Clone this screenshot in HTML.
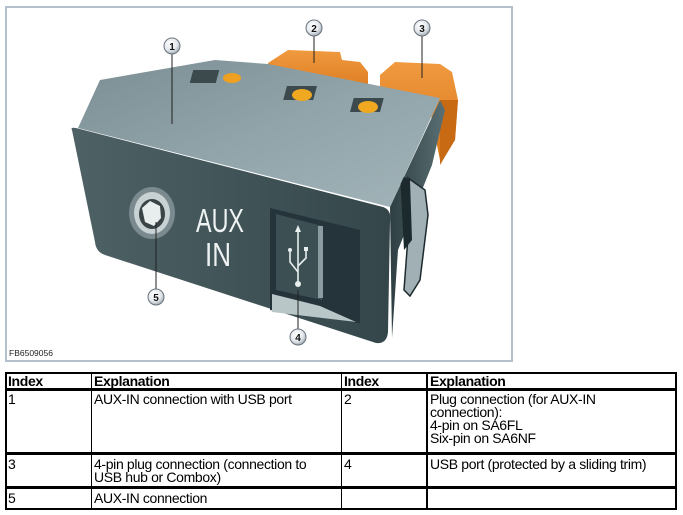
<!DOCTYPE html>
<html><head><meta charset="utf-8"><style>
html,body{margin:0;padding:0;background:#fff;}
body{width:683px;height:515px;position:relative;overflow:hidden;font-family:"Liberation Sans",Arial,sans-serif;}
.frame{position:absolute;left:5px;top:6px;width:504px;height:352px;border:2px solid #b4c0cc;}
.l{position:absolute;background:#000;}
.t{position:absolute;font-size:14px;line-height:13px;color:#000;letter-spacing:-0.35px;}
.b{font-weight:bold;}
</style></head><body>
<div class="frame"></div>
<svg width="683" height="365" style="position:absolute;left:0;top:0">
<defs>
<linearGradient id="top" x1="0" y1="0" x2="1" y2="1"><stop offset="0" stop-color="#7a8e94"/><stop offset="0.5" stop-color="#90a4aa"/><stop offset="1" stop-color="#a2b4b8"/></linearGradient>
<linearGradient id="front" x1="0" y1="0" x2="1" y2="0"><stop offset="0" stop-color="#4e6266"/><stop offset="1" stop-color="#34464a"/></linearGradient>
<linearGradient id="side" x1="0" y1="0" x2="1" y2="0"><stop offset="0" stop-color="#2e3e42"/><stop offset="1" stop-color="#5a7074"/></linearGradient>
<radialGradient id="c" cx="0.4" cy="0.35" r="0.7"><stop offset="0" stop-color="#fff"/><stop offset="0.6" stop-color="#e4e8ec"/><stop offset="1" stop-color="#9aa4ae"/></radialGradient>
<linearGradient id="org" x1="0" y1="0" x2="0" y2="1"><stop offset="0" stop-color="#f09a40"/><stop offset="1" stop-color="#d87418"/></linearGradient>
</defs>
<path d="M268,63 L288,50 L340,52 L342,60 L360,62 L368,72 L368,100 L268,100 Z" fill="url(#org)"/>
<path d="M380,75 L395,62 L440,64 L452,72 L458,100 L455,140 L440,160 L430,110 L380,100 Z" fill="url(#org)"/>
<path d="M440,100 L458,100 L455,140 L440,165 Z" fill="#c86a14"/>
<path d="M390,207 L440,100 L445,110 L432,165 L398,250 L392,338 Z" fill="url(#side)"/>
<path d="M408,178 L425,190 L428,215 L420,280 L410,296 L404,290 L410,210 Z" fill="#a0b0b4" stroke="#1c2a2e" stroke-width="1.5"/>
<path d="M400,175 L410,180 L412,240 L404,250 Z" fill="#1c2a2e"/>
<path d="M78,128 L100,80 L215,60 L268,64 L440,98 L390,207 Z" fill="url(#top)"/>
<rect x="212" y="70" width="26" height="13" fill="#3c4a4e" transform="skewX(-15)"/>
<ellipse cx="232" cy="78" rx="9" ry="5" fill="#f0a020"/>
<rect x="310" y="86" width="30" height="14" fill="#3c4a4e" transform="skewX(-15)"/>
<ellipse cx="302" cy="95" rx="10" ry="6" fill="#f0a820"/>
<rect x="380" y="98" width="30" height="14" fill="#3c4a4e" transform="skewX(-15)"/>
<ellipse cx="368" cy="107" rx="10" ry="6" fill="#f0a820"/>
<path d="M72,130 Q70,127 76,128 L383,207 Q392,210 390,222 L388,332 Q387,344 376,343 L105,255 Q96,252 95,242 Z" fill="url(#front)"/>
<ellipse cx="152" cy="213" rx="23" ry="26" fill="#7a8a8e"/>
<ellipse cx="152" cy="213" rx="18" ry="21" fill="#c8d2d4"/>
<ellipse cx="152" cy="214" rx="13" ry="15" fill="#3a4448"/>
<path d="M142,208 L150,201 L160,206 L161,218 L154,226 L145,222 Z" fill="#e8eeee"/>
<text x="196" y="232" textLength="48" lengthAdjust="spacingAndGlyphs" font-family="Liberation Sans,Arial,sans-serif" font-size="33" fill="#eef2f2">AUX</text>
<text x="205" y="266" textLength="26" lengthAdjust="spacingAndGlyphs" font-family="Liberation Sans,Arial,sans-serif" font-size="33" fill="#eef2f2">IN</text>
<path d="M270,208 L360,230 L360,323 L270,310 Z" fill="#24343a"/>
<path d="M276,214 L322,226 L322,300 L276,290 Z" fill="#3c5054"/>
<path d="M272,294 L320,306 L356,322 L272,312 Z" fill="#b8c6c8"/>
<rect x="318" y="226" width="5" height="72" fill="#8a9ca0"/>
<g stroke="#e8eeee" stroke-width="1.6" fill="none"><path d="M298,230 L298,282"/><path d="M298,272 L290,262 L290,252"/><path d="M298,266 L306,258 L306,250"/></g>
<path d="M295,232 L298,225 L301,232 Z" fill="#e8eeee"/><circle cx="298" cy="284" r="3" fill="#e8eeee"/><circle cx="290" cy="250" r="2" fill="#e8eeee"/><rect x="304" y="247" width="4" height="4" fill="#e8eeee"/>
<g stroke="#222" stroke-width="1"><line x1="172" y1="54" x2="172" y2="124"/><line x1="314" y1="36" x2="314" y2="63"/><line x1="422" y1="36" x2="422" y2="78"/><line x1="156" y1="222" x2="156" y2="289"/><line x1="298" y1="290" x2="298" y2="329"/></g>
<g stroke="#6a747e" stroke-width="1" fill="url(#c)"><circle cx="172" cy="46" r="8"/><circle cx="314" cy="28" r="8"/><circle cx="422" cy="28" r="8"/><circle cx="156" cy="297" r="8"/><circle cx="298" cy="337" r="8"/></g>
<g font-family="Liberation Sans,Arial,sans-serif" font-size="10" font-weight="bold" fill="#111" text-anchor="middle"><text x="172" y="50">1</text><text x="314" y="32">2</text><text x="422" y="32">3</text><text x="156" y="301">5</text><text x="298" y="341">4</text></g>
<text x="9" y="356" font-family="Liberation Sans,Arial,sans-serif" font-size="8.5" fill="#222">FB6509056</text>
</svg>
<div class="l" style="left:5px;top:372px;width:671px;height:2px"></div>
<div class="l" style="left:5px;top:388px;width:671px;height:3px"></div>
<div class="l" style="left:5px;top:452px;width:671px;height:3px"></div>
<div class="l" style="left:5px;top:486px;width:671px;height:3px"></div>
<div class="l" style="left:5px;top:508px;width:671px;height:2px"></div>
<div class="l" style="left:5px;top:372px;width:2px;height:138px"></div>
<div class="l" style="left:91px;top:372px;width:1px;height:138px"></div>
<div class="l" style="left:341px;top:372px;width:1px;height:138px"></div>
<div class="l" style="left:426px;top:372px;width:2px;height:138px"></div>
<div class="l" style="left:675px;top:372px;width:2px;height:138px"></div>
<div class="t b" style="left:8px;top:375px">Index</div>
<div class="t b" style="left:94px;top:375px">Explanation</div>
<div class="t b" style="left:344px;top:375px">Index</div>
<div class="t b" style="left:430px;top:375px">Explanation</div>
<div class="t" style="left:8px;top:393px">1</div>
<div class="t" style="left:94px;top:393px">AUX-IN connection with USB port</div>
<div class="t" style="left:344px;top:393px">2</div>
<div class="t" style="left:430px;top:393px">Plug connection (for AUX-IN<br>connection):<br>4-pin on SA6FL<br>Six-pin on SA6NF</div>
<div class="t" style="left:8px;top:458px">3</div>
<div class="t" style="left:94px;top:458px">4-pin plug connection (connection to<br>USB hub or Combox)</div>
<div class="t" style="left:344px;top:458px">4</div>
<div class="t" style="left:430px;top:458px">USB port (protected by a sliding trim)</div>
<div class="t" style="left:8px;top:492px">5</div>
<div class="t" style="left:94px;top:492px">AUX-IN connection</div>
</body></html>
